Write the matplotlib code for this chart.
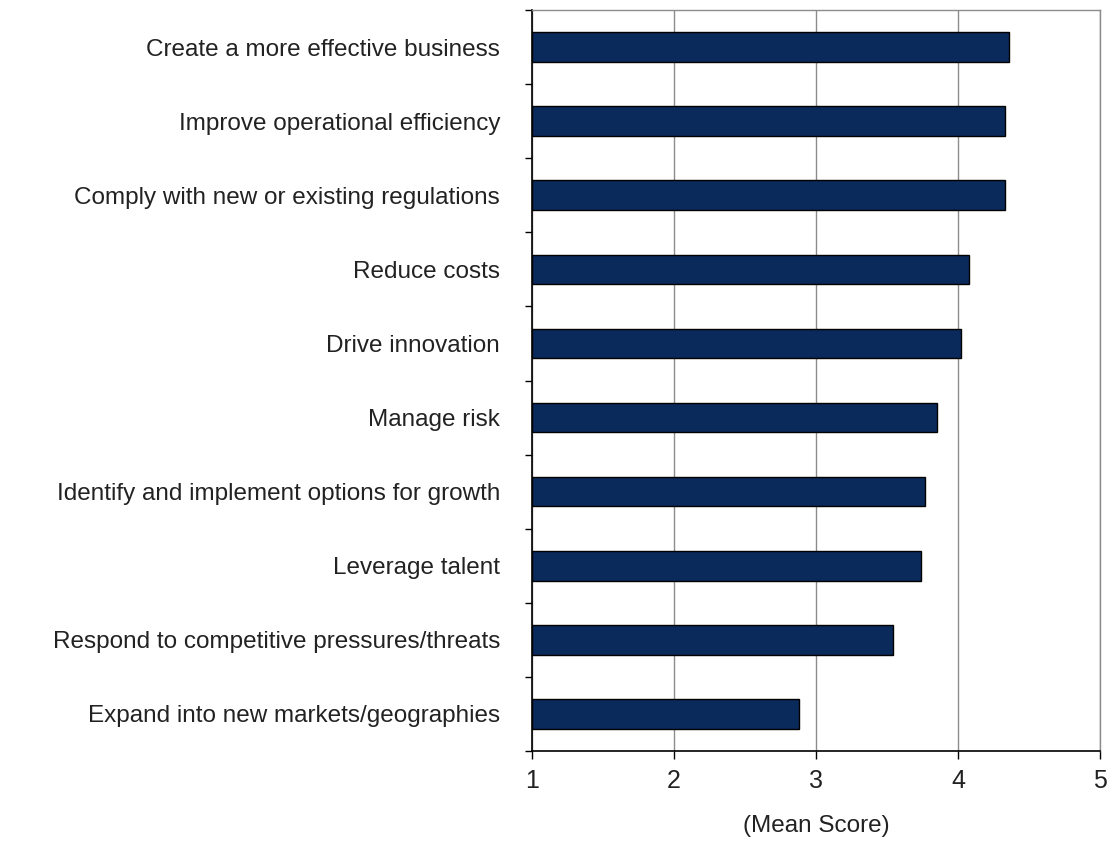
import matplotlib
matplotlib.use("Agg")
import matplotlib.pyplot as plt
import numpy as np

categories = [
    "Create a more effective business",
    "Improve operational efficiency",
    "Comply with new or existing regulations",
    "Reduce costs",
    "Drive innovation",
    "Manage risk",
    "Identify and implement options for growth",
    "Leverage talent",
    "Respond to competitive pressures/threats",
    "Expand into new markets/geographies",
]
values = [4.36, 4.33, 4.33, 4.08, 4.02, 3.85, 3.77, 3.74, 3.54, 2.88]
xticks = [1, 2, 3, 4, 5]

plt.rcParams['font.family'] = ['Liberation Sans', 'DejaVu Sans']

fig = plt.figure(figsize=(11.13, 8.5), dpi=100)
ax = fig.add_axes([532/1113, 1-751/850, (1100-532)/1113, (751-10)/850])

n = len(categories)
ypos = np.arange(n)
ax.barh(ypos, [v - 1 for v in values], left=1, height=0.4,
        color='#0b2a5c', edgecolor='#000000', linewidth=1.0, zorder=3)

ax.set_xlim(1, 5)
ax.set_ylim(n - 0.5, -0.5)
ax.set_xticks(xticks)
ax.set_xticklabels([str(t) for t in xticks], fontsize=18, color='#222222')
ax.xaxis.grid(True, color='#8c8c8c', linewidth=1.0, zorder=0)
ax.set_axisbelow(True)

ax.set_yticks(ypos)
ax.set_yticklabels(categories, fontsize=17.5, color='#222222')
ax.tick_params(axis='y', which='major', length=0, pad=23)
ax.set_yticks(np.arange(-0.5, n + 0.5, 1), minor=True)
ax.tick_params(axis='y', which='minor', length=5, width=1, color='black', direction='out')
ax.tick_params(axis='x', which='major', length=6, width=1, color='black', pad=7)

for s in ['left', 'bottom']:
    ax.spines[s].set_color('black')
    ax.spines[s].set_linewidth(1.2)
for s in ['top', 'right']:
    ax.spines[s].set_color('#8c8c8c')
    ax.spines[s].set_linewidth(1.0)

ax.set_xlabel("(Mean Score)", fontsize=17.5, color='#222222', labelpad=16)

fig.savefig("out.png", dpi=100, facecolor='white')
